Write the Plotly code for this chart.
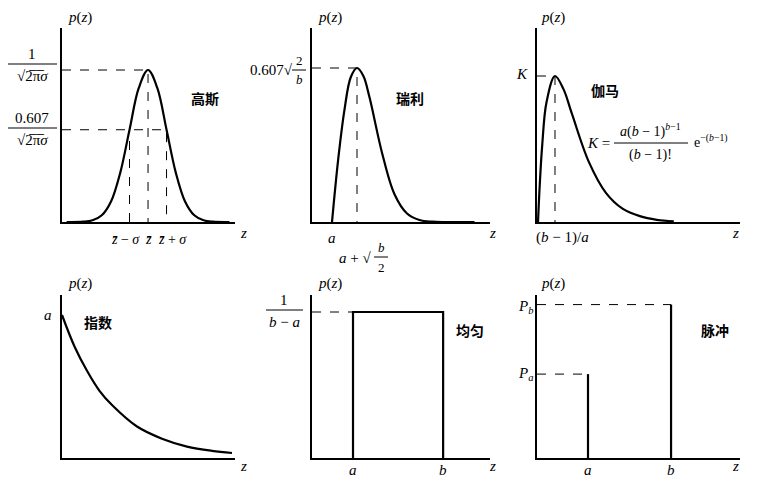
import plotly.graph_objects as go

gauss_z = [-4.4, -3.5, -3.0, -2.5, -2.0, -1.5, -1.0, -0.5, 0.0, 0.5, 1.0, 1.5, 2.0, 2.5, 3.0, 3.5, 4.4]
gauss_p = [0.0, 0.002, 0.011, 0.044, 0.135, 0.325, 0.607, 0.882, 1.0, 0.882, 0.607, 0.325, 0.135, 0.044, 0.011, 0.002, 0.0]

rayl_z = [0.0, 0.25, 0.5, 0.75, 1.0, 1.25, 1.5, 2.0, 2.5, 3.0, 3.5, 4.0, 4.6, 5.7]
rayl_p = [0.0, 0.41, 0.73, 0.94, 1.0, 0.95, 0.81, 0.45, 0.18, 0.055, 0.013, 0.002, 0.0, 0.0]

gamma_z = [0.0, 0.1, 0.25, 0.5, 1.0, 1.5, 2.0, 3.0, 4.0, 5.0, 6.0, 7.0, 8.0]
gamma_p = [0.0, 0.25, 0.53, 0.82, 1.0, 0.91, 0.74, 0.41, 0.2, 0.09, 0.04, 0.015, 0.005]

expo_z = [0.0, 0.25, 0.5, 0.75, 1.0, 1.5, 2.0, 2.5, 3.0, 3.4]
expo_p = [1.0, 0.78, 0.61, 0.47, 0.37, 0.22, 0.135, 0.08, 0.05, 0.035]

uni_a, uni_b = 1.0, 3.0
uni_h = 0.5

imp_a, imp_b = 1.0, 2.0
imp_pa, imp_pb = 0.35, 0.64

# the page body has an 8px margin, so the figure sits at (8, 8)
OFF = 8
W, H = 775 - OFF, 483 - OFF
SERIF = "Liberation Serif"
CJK = "Noto Sans CJK SC"


def px(x):
    return (x - OFF) / W


def py(y):
    return 1 - (y - OFF) / H


fig = go.Figure()

# panel boxes in pixels: (left, right, top, baseline), x range, y range
panels = [
    (62, 235, 28, 222, [-4.65, 4.7], [0, 194 / 152]),
    (312, 490, 28, 222, [-0.8, 6.32], [0, 194 / 154]),
    (537, 740, 28, 222, [-0.06, 11.9], [0, 194 / 146]),
    (62, 235, 295, 458, [0, 3.46], [0, 163 / 143]),
    (312, 490, 295, 458, [0.09, 4.04], [0, 0.5 * 163 / 146]),
    (537, 740, 295, 458, [0.386, 2.83], [0, 0.68]),
]
for i, (l, r, t, b, xr, yr) in enumerate(panels):
    n = "" if i == 0 else str(i + 1)
    ax = dict(showline=True, linecolor="black", linewidth=1.5, showgrid=False,
              zeroline=False, showticklabels=False, ticks="", fixedrange=True)
    fig.layout["xaxis" + n] = dict(ax, domain=[px(l), px(r)], range=xr, anchor="y" + n)
    fig.layout["yaxis" + n] = dict(ax, domain=[py(b), py(t)], range=yr, anchor="x" + n)

solid = dict(color="black", width=2.2)
dash = dict(color="black", width=1, dash="dash")


def add(x, y, n, line, shape="linear"):
    fig.add_trace(go.Scatter(x=x, y=y, mode="lines", line=dict(line, shape=shape),
                             xaxis="x" + n, yaxis="y" + n, showlegend=False, hoverinfo="skip"))


# Gaussian
add(gauss_z, gauss_p, "", solid, "spline")
add([-4.65, 0, 0], [1, 1, 0], "", dash)
add([-4.65, 1, 1], [gauss_p[6], gauss_p[6], 0], "", dash)
add([-1, -1], [0, gauss_p[6]], "", dash)
# Rayleigh
add(rayl_z, rayl_p, "2", solid, "spline")
add([-0.8, 1, 1], [1, 1, 0], "2", dash)
# Gamma
add(gamma_z, gamma_p, "3", solid, "spline")
add([-0.06, 1, 1], [1, 1, 0], "3", dash)
# Exponential
add(expo_z, expo_p, "4", solid, "spline")
# Uniform
add([uni_a, uni_a, uni_b, uni_b], [0, uni_h, uni_h, 0], "5", solid)
add([0.09, uni_a], [uni_h, uni_h], "5", dash)
# Impulse
add([imp_a, imp_a], [0, imp_pa], "6", solid)
add([imp_b, imp_b], [0, imp_pb], "6", solid)
add([0.386, imp_a], [imp_pa, imp_pa], "6", dash)
add([0.386, imp_b], [imp_pb, imp_pb], "6", dash)


def txt(x, y, s, size=15, font=SERIF, xanchor="center"):
    fig.add_annotation(x=px(x), y=py(y), xref="paper", yref="paper", text=s,
                       showarrow=False, font=dict(family=font, size=size, color="black"),
                       xanchor=xanchor, yanchor="middle")


def frac_bar(x0, x1, y):
    fig.add_shape(type="line", xref="paper", yref="paper", x0=px(x0), x1=px(x1),
                  y0=py(y), y1=py(y), line=dict(color="black", width=1))


for x, y in [(80, 18), (330, 18), (553, 18), (80, 283), (330, 283), (553, 283)]:
    txt(x, y, "<i>p</i>(<i>z</i>)")
for x, y in [(243, 233), (492, 233), (735, 233), (243, 466), (492, 466), (735, 466)]:
    txt(x, y, "<i>z</i>")

# Gaussian labels
txt(32, 54, "1")
frac_bar(8, 57, 64)
txt(32, 76, "√2̅π̅<i>σ</i>")
txt(32, 118, "0.607")
frac_bar(8, 57, 128)
txt(32, 140, "√2̅π̅<i>σ</i>")
txt(205, 98, "<b>高斯</b>", 14, CJK)
txt(125, 239, "<i>z̄</i> − <i>σ</i>", 14)
txt(148, 239, "<i>z̄</i>", 14)
txt(172, 239, "<i>z̄</i> + <i>σ</i>", 14)

# Rayleigh labels
txt(271, 70, "0.607√", 15)
txt(299, 61, "2", 13)
frac_bar(292, 306, 70)
txt(299, 80, "<i>b</i>", 13)
txt(410, 98, "<b>瑞利</b>", 14, CJK)
txt(332, 238, "<i>a</i>")
txt(355, 258, "<i>a</i> + √", 15)
txt(381, 247, "<i>b</i>", 13)
frac_bar(374, 388, 257)
txt(381, 267, "2", 13)

# Gamma labels
txt(522, 74, "<i>K</i>")
txt(605, 90, "<b>伽马</b>", 14, CJK)
txt(612, 143, "<i>K</i> =", 15, xanchor="right")
txt(650, 131, "<i>a</i>(<i>b</i> − 1)<sup><i>b</i>−1</sup>", 14)
frac_bar(614, 688, 143)
txt(650, 155, "(<i>b</i> − 1)!", 14)
txt(692, 141, "e<sup>−(<i>b</i>−1)</sup>", 14, xanchor="left")
txt(562, 238, "(<i>b</i> − 1)/<i>a</i>")

# Exponential labels
txt(48, 315, "<i>a</i>")
txt(98, 322, "<b>指数</b>", 14, CJK)

# Uniform labels
txt(284, 300, "1")
frac_bar(266, 303, 310)
txt(284, 322, "<i>b</i> − <i>a</i>")
txt(470, 330, "<b>均匀</b>", 14, CJK)
txt(353, 470, "<i>a</i>")
txt(443, 470, "<i>b</i>")

# Impulse labels
txt(525, 307, "<i>P<sub>b</sub></i>")
txt(525, 374, "<i>P<sub>a</sub></i>")
txt(715, 330, "<b>脉冲</b>", 14, CJK)
txt(588, 470, "<i>a</i>")
txt(671, 470, "<i>b</i>")

fig.update_layout(width=W, height=H, margin=dict(l=0, r=0, t=0, b=0),
                  plot_bgcolor="white", paper_bgcolor="white")
fig.write_html("out.html")
